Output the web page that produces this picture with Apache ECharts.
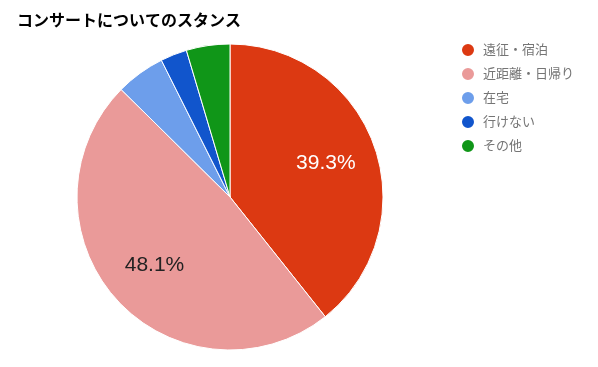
<!DOCTYPE html>
<html><head><meta charset="utf-8">
<script src="https://cdn.jsdelivr.net/npm/echarts@6/dist/echarts.min.js"></script>
<style>html,body{margin:0;padding:0;background:#fff}#c{width:598px;height:367px}</style>
</head><body><div id="c"></div>
<script>
const title = 'コンサートについてのスタンス';
const categories = ['遠征・宿泊', '近距離・日帰り', '在宅', '行けない', 'その他'];
const values = [39.3, 48.1, 5.2, 2.8, 4.6];
const colors = ['#dc3912', '#ea9a99', '#6d9eeb', '#1155cc', '#109618'];

const font = 'Arial, "Liberation Sans", "Noto Sans CJK JP", sans-serif';
const data = categories.map((n, i) => ({name: n, value: values[i], itemStyle: {color: colors[i]}}));
const chart = echarts.init(document.getElementById('c'));
chart.setOption({
  animation: false,
  title: {text: title, left: 17, top: 14, padding: 0, textStyle: {fontSize: 16, fontWeight: 'bold', color: '#000', fontFamily: font}},
  legend: {
    orient: 'vertical', left: 460, top: 42, padding: 0, icon: 'circle', itemWidth: 20, itemHeight: 14, itemGap: 8,
    data: categories,
    textStyle: {fontSize: 13, color: '#757575', fontFamily: font, lineHeight: 14}
  },
  series: [{
    type: 'pie', center: [230, 197], radius: [0, 153], startAngle: 90, clockwise: true,
    silent: true, label: {show: false}, labelLine: {show: false},
    itemStyle: {borderColor: '#fff', borderWidth: 1},
    data: data
  }, {
    type: 'pie', center: [230, 197], radius: [44, 153], startAngle: 90, clockwise: true,
    silent: true, labelLine: {show: false},
    itemStyle: {color: 'rgba(0,0,0,0)', borderWidth: 0},
    label: {show: true, position: 'inside', fontSize: 21, fontFamily: font,
      formatter: p => p.value >= 10 ? p.value.toFixed(1) + '%' : ''},
    data: categories.map((n, i) => ({name: n, value: values[i],
      itemStyle: {color: 'rgba(0,0,0,0)'},
      label: {color: i === 0 ? '#fff' : '#222'}}))
  }]
});
</script></body></html>
